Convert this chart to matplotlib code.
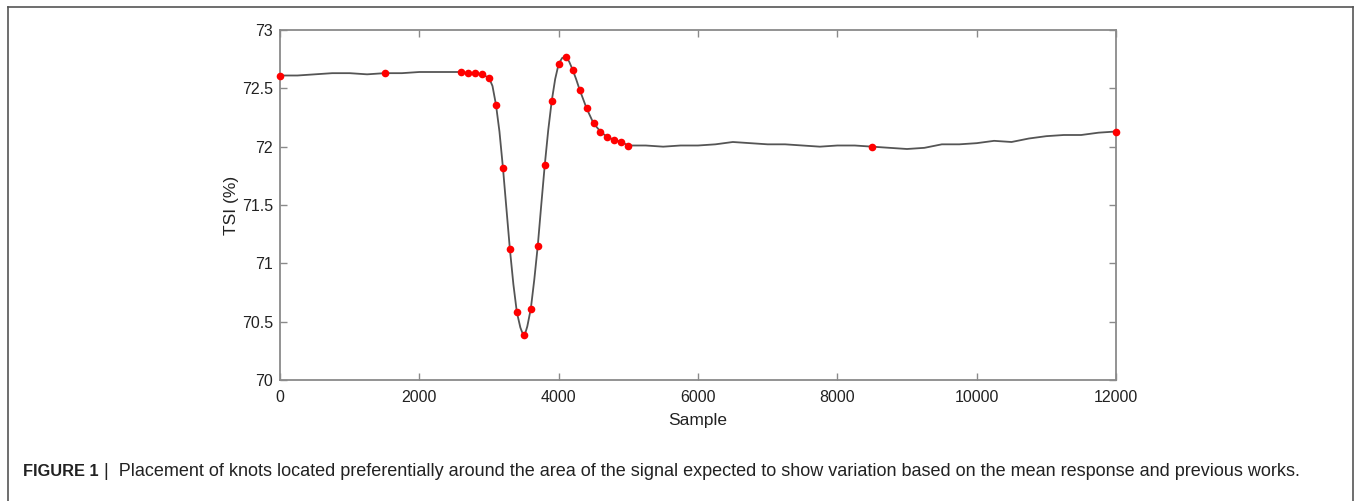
import matplotlib
matplotlib.use("Agg")
import matplotlib.pyplot as plt
from matplotlib.lines import Line2D

plt.rcParams['font.family'] = ['Liberation Sans', 'DejaVu Sans']

# TSI signal
sig_x = [0, 250, 500, 750, 1000, 1250, 1500, 1750, 2000, 2250, 2500, 2600, 2700,
         2800, 2900, 3000, 3050, 3100, 3150, 3200, 3250, 3300, 3350, 3400, 3450,
         3475, 3500, 3525, 3550, 3600, 3650, 3700, 3750, 3800, 3850, 3900, 3950,
         4000, 4050, 4100, 4150, 4200, 4250, 4300, 4400, 4500, 4600, 4700,
         4800, 4900, 5000, 5250, 5500, 5750, 6000, 6250, 6500, 6750, 7000, 7250,
         7500, 7750, 8000, 8250, 8500, 8750, 9000, 9250, 9500, 9750, 10000, 10250,
         10500, 10750, 11000, 11250, 11500, 11750, 12000]
sig_y = [72.61, 72.61, 72.62, 72.63, 72.63, 72.62, 72.63, 72.63, 72.64, 72.64,
         72.64, 72.64, 72.63, 72.63, 72.62, 72.59, 72.52, 72.36, 72.13, 71.82,
         71.47, 71.12, 70.82, 70.58, 70.45, 70.41, 70.39, 70.41, 70.46, 70.61,
         70.86, 71.15, 71.50, 71.84, 72.14, 72.39, 72.58, 72.71, 72.76, 72.77,
         72.73, 72.66, 72.58, 72.49, 72.33, 72.20, 72.13, 72.08, 72.06, 72.04,
         72.01, 72.01, 72.00, 72.01, 72.01, 72.02, 72.04, 72.03, 72.02, 72.02,
         72.01, 72.00, 72.01, 72.01, 72.00, 71.99, 71.98, 71.99, 72.02, 72.02,
         72.03, 72.05, 72.04, 72.07, 72.09, 72.10, 72.10, 72.12, 72.13]

# knots
knot_x = [0, 1500, 2600, 2700, 2800, 2900, 3000, 3100, 3200, 3300, 3400, 3500,
          3600, 3700, 3800, 3900, 4000, 4100, 4200, 4300, 4400, 4500, 4600, 4700,
          4800, 4900, 5000, 8500, 12000]
knot_y = [72.61, 72.63, 72.64, 72.63, 72.63, 72.62, 72.59, 72.36, 71.82, 71.12,
          70.58, 70.39, 70.61, 71.15, 71.84, 72.39, 72.71, 72.77, 72.66, 72.49,
          72.33, 72.20, 72.13, 72.08, 72.06, 72.04, 72.01, 72.00, 72.13]

xticks = [0, 2000, 4000, 6000, 8000, 10000, 12000]
yticks = [70, 70.5, 71, 71.5, 72, 72.5, 73]
ytick_labels = ['70', '70.5', '71', '71.5', '72', '72.5', '73']

fig = plt.figure(figsize=(13.56, 5.01), dpi=100)
ax = fig.add_axes([280 / 1356, 121 / 501, 836 / 1356, 350 / 501])

ax.plot(sig_x, sig_y, color='#555555', lw=1.3, zorder=2)
ax.plot(knot_x, knot_y, 'o', color='#ff0000', ms=5.5, mec='none', zorder=3,
        clip_on=False)

ax.set_xlim(0, 12000)
ax.set_ylim(70, 73)
ax.set_xticks(xticks)
ax.set_yticks(yticks)
ax.set_yticklabels(ytick_labels)
ax.tick_params(direction='in', length=5, width=1, colors='#8a8a8a',
               labelcolor='#222222', labelsize=11.5, top=True, right=True)
ax.tick_params(axis='x', pad=7)
ax.tick_params(axis='y', pad=5)
for s in ax.spines.values():
    s.set_color('#8a8a8a')
    s.set_linewidth(1.3)

ax.set_xlabel('Sample', fontsize=12.5, color='#222222', labelpad=6)
ax.set_ylabel('TSI (%)', fontsize=12.5, color='#222222', labelpad=2)

# outer frame (bottom edge is off the page)
fc = '#555555'
fig.add_artist(Line2D([8 / 1356, 8 / 1356], [0, 1 - 7 / 501], color=fc, lw=1.2))
fig.add_artist(Line2D([1353 / 1356, 1353 / 1356], [0, 1 - 7 / 501], color=fc, lw=1.2))
fig.add_artist(Line2D([8 / 1356, 1353 / 1356], [1 - 7 / 501, 1 - 7 / 501], color=fc, lw=1.2))

# caption
fig.text(23 / 1356, 30 / 501, 'FIGURE 1', fontsize=11.8, fontweight='bold',
         color='#222222', va='center')
fig.text(104 / 1356, 30 / 501,
         '|  Placement of knots located preferentially around the area of the '
         'signal expected to show variation based on the mean response and '
         'previous works.',
         fontsize=13.0, color='#222222', va='center')

fig.savefig('out.png', dpi=100)
